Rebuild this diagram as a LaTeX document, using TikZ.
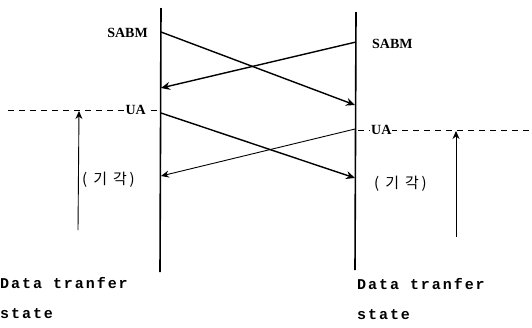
\documentclass[tikz,border=0pt]{standalone}
\usepackage{fontspec}
\setmainfont{Liberation Serif}
\newfontfamily\typefont[LetterSpace=13]{Liberation Mono}
\newfontfamily\kofont[LetterSpace=18]{Noto Sans CJK KR}
\usetikzlibrary{arrows, arrows.meta, positioning}
\tikzstyle{msg} = [line width=1.4pt,->,>={Stealth[length=9pt,width=8pt]}]
\tikzstyle{thinmsg} = [line width=0.9pt,->,>={Stealth[length=8pt,width=7pt]}]

\begin{document}
\begin{tikzpicture}[
    x=1pt, y=-1pt,
    station/.style={line width=1.6pt},
    frame/.style={font=\fontsize{14}{16}\selectfont\bfseries, inner sep=1pt},
    cut/.style={dashed, line width=0.8pt, dash pattern=on 6pt off 5pt},
    timer/.style={font=\kofont\fontsize{15}{17}\selectfont, inner sep=0pt},
    state/.style={font=\typefont\bfseries\fontsize{15}{30}\selectfont, align=left, inner sep=0pt, anchor=north west}
]
\useasboundingbox (0,0) rectangle (532,327);

% Stations
\coordinate (atop) at (161,8);
\coordinate (abot) at (160,272);
\coordinate (btop) at (356,12);
\coordinate (bbot) at (355,270);
\draw [station] (atop) -- (abot);
\draw [station] (btop) -- (bbot);

% Points on the time lines
\coordinate (a1) at (161,32);
\coordinate (a2) at (161,88);
\coordinate (a3) at (161,113);
\coordinate (a4) at (161,176);
\coordinate (b1) at (356,42);
\coordinate (b2) at (355,105);
\coordinate (b3) at (355,129);
\coordinate (b4) at (355,178);

% Labels
\node (sabma) [frame, anchor=east] at (149,33) {SABM};
\node (sabmb) [frame, anchor=west] at (371,44) {SABM};

% Cut lines
\coordinate (cutal) at (8,110);
\coordinate (cutar) at (160,110);
\coordinate (cutbl) at (358,130);
\coordinate (cutbr) at (532,130);
\draw [cut] (cutal) -- (cutar);
\draw [cut] (cutbl) -- (cutbr);
\node (uaa) [frame, fill=white, anchor=east] at (147,110) {UA};
\node (uab) [frame, fill=white, anchor=west] at (370,130) {UA};

% Frames
\draw [msg] (a1) -- (b2);
\draw [msg] (b1) -- (a2);
\draw [msg] (a3) -- (b4);
\draw [thinmsg] (b3) -- (a4);

% Timers
\coordinate (ta0) at (78,230);
\coordinate (ta1) at (79,111);
\coordinate (tb0) at (456,237);
\coordinate (tb1) at (456,131);
\draw [thinmsg] (ta0) -- (ta1);
\draw [thinmsg] (tb0) -- (tb1);
\node (reja) [timer, anchor=west] at (82,180) {( 기 각)};
\node (rejb) [timer, anchor=west] at (374,184) {( 기 각)};

% States
\node (statea) [state] at (0,277) {Data tranfer\\state};
\node (stateb) [state] at (357,278) {Data tranfer\\state};

\end{tikzpicture}
\end{document}
